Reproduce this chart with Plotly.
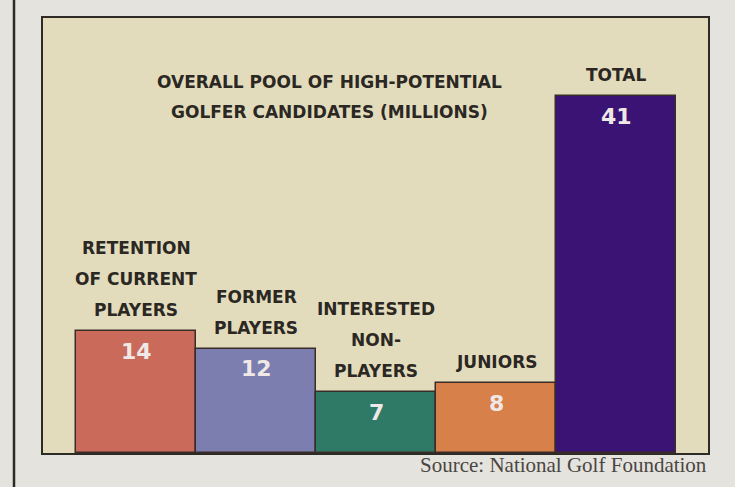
import plotly.graph_objects as go

categories = [["RETENTION", "OF CURRENT", "PLAYERS"], ["FORMER", "PLAYERS"],
              ["INTERESTED", "NON-", "PLAYERS"], ["JUNIORS"], ["TOTAL"]]
values = [14, 12, 7, 8, 41]
colors = ["#c96a5a", "#7b7eae", "#2f7a66", "#d8804a", "#3b1374"]
title_lines = ["OVERALL POOL OF HIGH-POTENTIAL", "GOLFER CANDIDATES (MILLIONS)"]
source_text = "Source: National Golf Foundation"

x = list(range(len(values)))
FONT = "DejaVu Sans"
PAPER = "#e5e3de"

fig = go.Figure()
fig.add_trace(go.Bar(
    x=x, y=values, width=1.0,
    marker=dict(color=colors, line=dict(color="#3a2c28", width=1.5)),
    hoverinfo="skip",
))

label_font = dict(family=FONT, size=17, color="#2b2722")
for xi, (lines, v) in enumerate(zip(categories, values)):
    n = len(lines)
    for i, line in enumerate(lines):
        fig.add_annotation(x=xi, y=v, text="<b>" + line + "</b>", showarrow=False,
                           yanchor="middle", yshift=21 + 31 * (n - 1 - i),
                           font=label_font, align="center")
    fig.add_annotation(x=xi, y=v, text="<b>" + str(v) + "</b>", showarrow=False,
                       yanchor="middle", yshift=-20,
                       font=dict(family=FONT, size=22, color="#efe8e6"))

for i, line in enumerate(title_lines):
    fig.add_annotation(x=1.61, y=42.3, text="<b>" + line + "</b>", showarrow=False,
                       xanchor="center", yanchor="middle", yshift=3 - 30 * i,
                       font=label_font, align="center")

fig.add_annotation(xref="paper", yref="paper", x=1.0, y=0, xanchor="right", yanchor="middle",
                   xshift=1, yshift=-12, text=source_text, showarrow=False,
                   font=dict(family="Liberation Serif", size=21, color="#4a4642"))

fig.add_shape(type="line", xref="paper", yref="paper",
              x0=-0.0436, x1=-0.0436, y0=-0.2, y1=1.1,
              line=dict(color="#2e2a26", width=2.5))

fig.update_layout(
    width=735, height=487,
    margin=dict(l=43, r=27, t=18, b=34),
    paper_bgcolor=PAPER,
    plot_bgcolor="#e2dcbd",
    showlegend=False,
    bargap=0,
    xaxis=dict(range=[-0.775, 4.765], showticklabels=False, showgrid=False, zeroline=False,
               showline=True, mirror=True, linecolor="#2e2a26", linewidth=2, ticks=""),
    yaxis=dict(range=[0, 50], showticklabels=False, showgrid=False, zeroline=False,
               showline=True, mirror=True, linecolor="#2e2a26", linewidth=2, ticks=""),
)

fig.write_html(
    "out.html",
    config={"displayModeBar": False},
    post_script="document.body.style.margin='0';document.body.style.overflow='hidden';"
                "document.body.style.backgroundColor='" + PAPER + "';",
)
